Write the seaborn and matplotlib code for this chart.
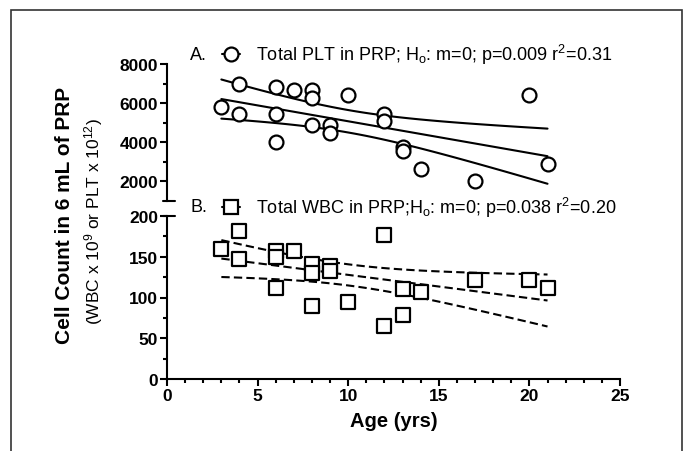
import numpy as np
import pandas as pd
import matplotlib
matplotlib.use("Agg")
import matplotlib.pyplot as plt
import seaborn as sns
from matplotlib.lines import Line2D
from matplotlib.patches import Rectangle

# Age (yrs) of each donor
plt_age = [3, 4, 4, 6, 6, 6, 7, 8, 8, 8, 9, 9, 10, 12, 12, 13, 13, 14, 17, 20, 21]
plt_count = [5800, 7000, 5450, 6800, 5450, 4000, 6650, 6650, 6250, 4900, 4900, 4500,
             6400, 5450, 5100, 3750, 3550, 2650, 2000, 6400, 2900]

wbc_age = [3, 4, 4, 6, 6, 6, 7, 8, 8, 8, 9, 9, 10, 12, 12, 13, 13, 14, 17, 20, 21]
wbc_count = [160, 181, 147, 157, 150, 112, 157, 141, 130, 89, 139, 132, 94, 177, 65,
             110, 79, 107, 122, 122, 112]

label_a = "Total PLT in PRP; H$_o$: m=0; p=0.009 r$^2$=0.31"
label_b = "Total WBC in PRP;H$_o$: m=0; p=0.038 r$^2$=0.20"

T95 = 2.093  # t crit, df=19


def fit_band(x, y):
    x = np.asarray(x, float)
    y = np.asarray(y, float)
    n = len(x)
    b, a = np.polyfit(x, y, 1)
    res = y - (a + b * x)
    s = np.sqrt((res ** 2).sum() / (n - 2))
    sxx = ((x - x.mean()) ** 2).sum()
    xs = np.linspace(x.min(), x.max(), 60)
    yh = a + b * xs
    se = s * np.sqrt(1 / n + (xs - x.mean()) ** 2 / sxx)
    return pd.DataFrame({"x": xs, "fit": yh, "lo": yh - T95 * se, "hi": yh + T95 * se})


sns.set_style("ticks")
plt.rcParams["font.family"] = ["Liberation Sans", "DejaVu Sans"]
plt.rcParams["mathtext.default"] = "regular"
for k in ["text.color", "axes.labelcolor", "xtick.color", "ytick.color", "axes.edgecolor"]:
    plt.rcParams[k] = "black"

fig = plt.figure(figsize=(6.88, 4.52), dpi=100)
L, R = 167 / 688, 620 / 688
ax1 = fig.add_axes([L, 1 - 202 / 452, R - L, (202 - 65) / 452])
ax2 = fig.add_axes([L, 1 - 380 / 452, R - L, (380 - 217) / 452])

lw = 1.5
# top panel
df_a = pd.DataFrame({"age": plt_age, "count": plt_count})
band_a = fit_band(plt_age, plt_count)
for col in ["fit", "lo", "hi"]:
    sns.lineplot(data=band_a, x="x", y=col, ax=ax1, color="black", lw=lw)
sns.scatterplot(data=df_a, x="age", y="count", ax=ax1, marker="o", s=100,
                facecolor="white", edgecolor="black", linewidth=1.6, zorder=3)

# bottom panel
df_b = pd.DataFrame({"age": wbc_age, "count": wbc_count})
band_b = fit_band(wbc_age, wbc_count)
for col in ["fit", "lo", "hi"]:
    sns.lineplot(data=band_b, x="x", y=col, ax=ax2, color="black", lw=lw,
                 linestyle=(0, (4, 2)))
sns.scatterplot(data=df_b, x="age", y="count", ax=ax2, marker="s", s=110,
                facecolor="white", edgecolor="black", linewidth=1.6, zorder=3)

for ax in (ax1, ax2):
    ax.set_xlim(0, 25)
    ax.set_xlabel("")
    ax.set_ylabel("")
    ax.spines["top"].set_visible(False)
    ax.spines["right"].set_visible(False)
    ax.spines["left"].set_linewidth(lw)
    ax.spines["bottom"].set_linewidth(lw)
    ax.tick_params(which="major", length=5, width=lw, labelsize=12.5, pad=1.5)
    ax.tick_params(which="minor", length=3, width=lw)
    ax.set_facecolor("none")

ax1.set_ylim(1000, 8000)
ax1.set_yticks([2000, 4000, 6000, 8000])
ax1.set_yticks([3000, 5000, 7000], minor=True)
ax1.spines["bottom"].set_visible(False)
ax1.tick_params(axis="x", which="both", bottom=False, labelbottom=False)

ax2.set_ylim(0, 200)
ax2.set_yticks([0, 50, 100, 150, 200])
ax2.set_yticks([25, 75, 125, 175], minor=True)
ax2.set_xticks([0, 5, 10, 15, 20, 25])
ax2.set_xticks(range(0, 26), minor=True)
ax2.set_xlabel("Age (yrs)", fontsize=14.5, fontweight="bold", labelpad=6)

for ax in (ax1, ax2):
    for t in ax.get_xticklabels() + ax.get_yticklabels():
        t.set_fontweight("bold")

# axis break caps
ax1.plot([-0.008, 0.018], [0, 0], transform=ax1.transAxes, color="black", lw=lw, clip_on=False)
ax2.plot([-0.008, 0.018], [1, 1], transform=ax2.transAxes, color="black", lw=lw, clip_on=False)

# panel labels with legend glyphs
fig.text(190 / 688, 1 - 55 / 452, "A.", fontsize=13, va="center")
fig.text(190 / 688, 1 - 208 / 452, "B.", fontsize=13, va="center")
h_a = Line2D([], [], color="black", lw=lw, marker="o", ms=10, mfc="white", mec="black", mew=1.6)
h_b = Line2D([], [], color="black", lw=lw, marker="s", ms=10, mfc="white", mec="black", mew=1.6)
fig.legend([h_a], [label_a], loc="center left", bbox_to_anchor=(222 / 688, 1 - 55 / 452),
           frameon=False, handlelength=1.0, handletextpad=0.9, fontsize=13, borderpad=0,
           borderaxespad=0)
fig.legend([h_b], [label_b], loc="center left", bbox_to_anchor=(222 / 688, 1 - 208 / 452),
           frameon=False, handlelength=1.0, handletextpad=0.9, fontsize=13, borderpad=0,
           borderaxespad=0)

# y label (two lines)
fig.text(65 / 688, 1 - 215 / 452, "Cell Count in 6 mL of PRP", rotation=90, fontsize=15,
         fontweight="bold", ha="center", va="center")
fig.text(94 / 688, 1 - 222 / 452, "(WBC x 10$^9$ or PLT x 10$^{12}$)", rotation=90,
         fontsize=12.5, ha="center", va="center")

# outer frame
fig.add_artist(Rectangle((11 / 688, -0.05), (682 - 11) / 688, 1 - 11 / 452 + 0.05,
                         transform=fig.transFigure, fill=False, edgecolor="#333333", lw=1.2))

fig.savefig("out.png", dpi=100)
